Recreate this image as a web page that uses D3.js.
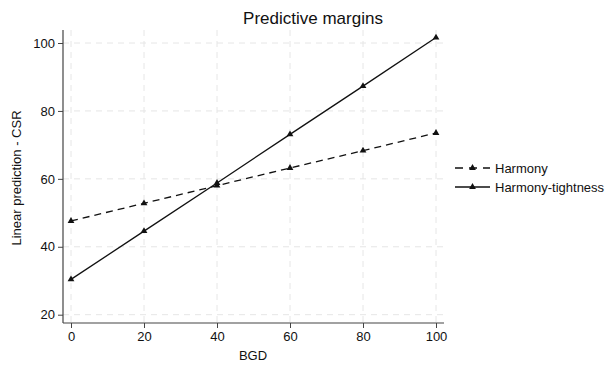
<!DOCTYPE html>
<html>
<head>
<meta charset="utf-8">
<script src="https://cdn.jsdelivr.net/npm/d3@7"></script>
<style>
  body { margin: 0; background: #fff; }
  svg { font-family: "Liberation Sans", Arial, sans-serif; }
</style>
</head>
<body>
<svg id="chart" width="606" height="366"></svg>
<script>
// values
const bgd = [0, 20, 40, 60, 80, 100];
const harmony = [47.6, 52.8, 58.0, 63.2, 68.3, 73.5];
const harmonyTightness = [30.4, 44.6, 58.8, 73.1, 87.3, 101.6];
const xTicks = [0, 20, 40, 60, 80, 100];
const yTicks = [20, 40, 60, 80, 100];

const series = [
  {name: 'Harmony', values: harmony, dash: '7,5'},
  {name: 'Harmony-tightness', values: harmonyTightness, dash: null}
];

const svg = d3.select('#chart');

const x = d3.scaleLinear().domain([0, 100]).range([71, 436]);
const y = d3.scaleLinear().domain([20, 100]).range([314.7, 43]);

const plotLeft = 63, plotRight = 444, plotTop = 30, plotBottom = 323;

// grid
let grid = svg.append('g');
grid.selectAll('.gx')
  .data(xTicks)
  .enter()
  .append('line')
  .attr('x1', d => x(d)).attr('x2', d => x(d))
  .attr('y1', plotTop).attr('y2', plotBottom)
  .attr('stroke', '#e6e6e6')
  .attr('stroke-dasharray', '6,5');
grid.selectAll('.gy')
  .data(yTicks)
  .enter()
  .append('line')
  .attr('x1', plotLeft).attr('x2', plotRight)
  .attr('y1', d => y(d)).attr('y2', d => y(d))
  .attr('stroke', '#e6e6e6')
  .attr('stroke-dasharray', '6,5');

// axes
let xAxis = svg.append('g')
  .attr('transform', `translate(0, ${plotBottom})`)
  .call(d3.axisBottom(x).tickValues(xTicks).tickSize(5).tickPadding(4));
let yAxis = svg.append('g')
  .attr('transform', `translate(${plotLeft}, 0)`)
  .call(d3.axisLeft(y).tickValues(yTicks).tickSize(5).tickPadding(3));

[xAxis, yAxis].forEach(a => {
  a.select('.domain').remove();
  a.selectAll('line').attr('stroke', '#444');
  a.selectAll('text').attr('fill', '#111').style('font-size', '13px')
    .style('font-family', '"Liberation Sans", Arial, sans-serif');
});
svg.append('line').attr('x1', plotLeft).attr('x2', plotRight).attr('y1', plotBottom).attr('y2', plotBottom)
  .attr('stroke', '#444').attr('stroke-width', 1.2);
svg.append('line').attr('x1', plotLeft).attr('x2', plotLeft).attr('y1', plotTop).attr('y2', plotBottom)
  .attr('stroke', '#444').attr('stroke-width', 1.2);

// lines
const line = d3.line()
  .x((d, i) => x(bgd[i]))
  .y(d => y(d));

const tri = d3.symbol().type(d3.symbolTriangle).size(20);

series.forEach(s => {
  svg.append('path')
    .attr('d', line(s.values))
    .attr('fill', 'none')
    .attr('stroke', '#111')
    .attr('stroke-width', 1.3)
    .attr('stroke-dasharray', s.dash);
  svg.selectAll(null)
    .data(s.values)
    .enter()
    .append('path')
    .attr('d', tri)
    .attr('transform', (d, i) => `translate(${x(bgd[i])}, ${y(d)})`)
    .attr('fill', '#111');
});

// legend
let legend = svg.append('g');
series.forEach((s, i) => {
  const ly = 168 + i * 19;
  legend.append('line')
    .attr('x1', 455).attr('x2', 490).attr('y1', ly).attr('y2', ly)
    .attr('stroke', '#111').attr('stroke-width', 1.3)
    .attr('stroke-dasharray', s.dash ? '8,6' : null);
  legend.append('path').attr('d', tri).attr('transform', `translate(472.5, ${ly})`).attr('fill', '#111');
  legend.append('text')
    .attr('x', 495).attr('y', ly).attr('dy', '0.35em')
    .attr('fill', '#111')
    .style('font-size', '13px')
    .text(s.name);
});

// titles
svg.append('text')
  .attr('x', 313).attr('y', 24)
  .attr('text-anchor', 'middle')
  .attr('fill', '#111')
  .style('font-size', '17px')
  .text('Predictive margins');

svg.append('text')
  .attr('x', 253).attr('y', 360)
  .attr('text-anchor', 'middle')
  .attr('fill', '#111')
  .style('font-size', '13px')
  .text('BGD');

svg.append('text')
  .attr('transform', 'translate(21, 178) rotate(-90)')
  .attr('text-anchor', 'middle')
  .attr('fill', '#111')
  .style('font-size', '13px')
  .text('Linear prediction - CSR');
</script>
</body>
</html>
